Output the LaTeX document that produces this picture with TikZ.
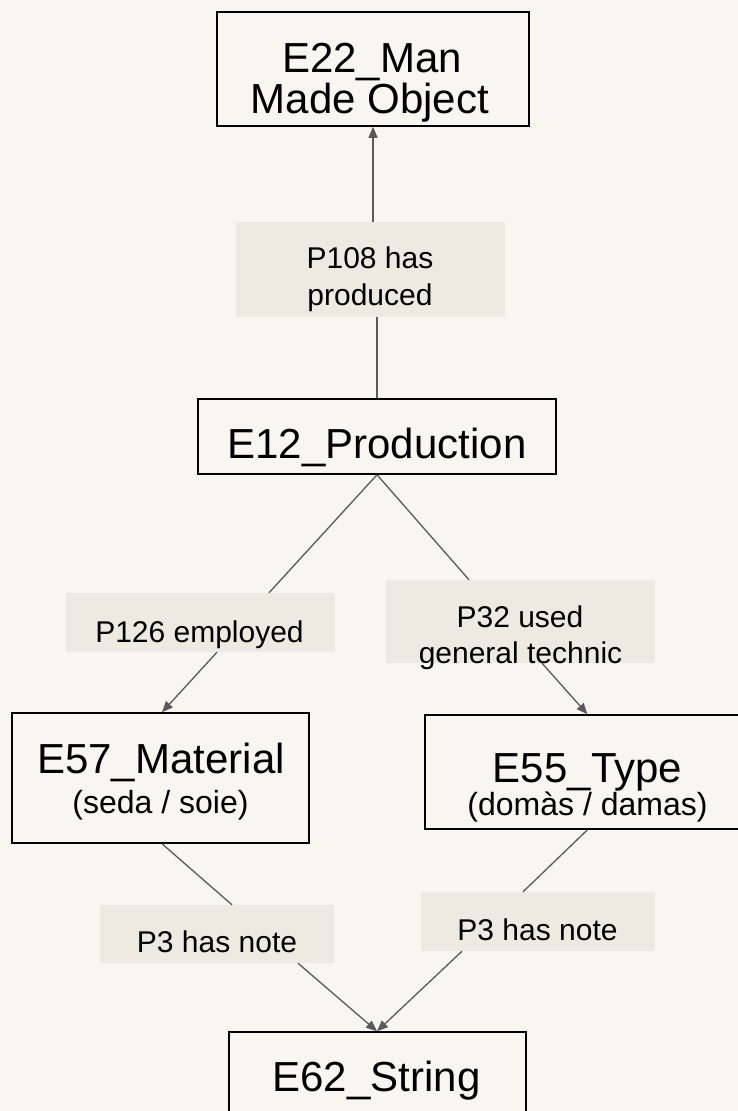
\documentclass[tikz,border=0pt]{standalone}
\usepackage{fontspec}
\setmainfont{Liberation Sans}
\usetikzlibrary{arrows.meta,calc}
\definecolor{bgc}{HTML}{F7F6F0}
\definecolor{labc}{HTML}{ECEAE1}
\definecolor{lnc}{HTML}{5A5A5A}
\begin{document}
\begin{tikzpicture}[x=1pt,y=-1pt,
  ebox/.style={draw=black,line width=1.5pt,inner sep=0pt,rectangle},
  lbox/.style={fill=labc,draw=none,inner sep=0pt,rectangle},
  etxt/.style={anchor=base,inner sep=0pt,font=\fontsize{42}{48}\selectfont},
  stxt/.style={anchor=base,inner sep=0pt,font=\fontsize{32}{38}\selectfont},
  ltxt/.style={anchor=base,inner sep=0pt,font=\fontsize{30}{36}\selectfont},
  conn/.style={draw=lnc,line width=1.3pt},
  arr/.style={conn,-{Triangle[length=11pt,width=9pt]}}]
\useasboundingbox (0,0) rectangle (738,1111);
\clip (0,0) rectangle (738,1111);
\fill[bgc] (0,0) rectangle (738,1111);

% label boxes
\node[lbox,minimum width=269pt,minimum height=95pt] (p108) at (370.5,269.5) {};
\node[lbox,minimum width=269pt,minimum height=59pt] (p126) at (200.5,622.5) {};
\node[lbox,minimum width=269pt,minimum height=83pt] (p32) at (520.5,621.5) {};
\node[lbox,minimum width=234pt,minimum height=58pt] (p3a) at (217,934) {};
\node[lbox,minimum width=234pt,minimum height=59pt] (p3b) at (538,921.5) {};

% entity boxes
\node[ebox,minimum width=312pt,minimum height=114pt] (e22) at (373,69) {};
\node[ebox,minimum width=358pt,minimum height=75pt] (e12) at (377,436.5) {};
\node[ebox,minimum width=297pt,minimum height=130pt] (e57) at (160.5,778) {};
\node[ebox,minimum width=325pt,minimum height=114pt] (e55) at (587.5,772) {};
\node[ebox,minimum width=297pt,minimum height=108pt] (e62) at (377.5,1086) {};

% connectors
\draw[conn] (e12.north) -- (e12.north |- p108.south);
\draw[arr] (e22.south |- p108.north) -- (e22.south);

\draw[conn] (e12.south) -- ([xshift=68.5pt]p126.north);
\draw[arr] ([xshift=16.5pt]p126.south) -- ([xshift=1.5pt]e57.north);

\draw[conn] (e12.south) -- ([xshift=-51.5pt]p32.north);
\draw[arr] ([xshift=21.5pt]p32.south) -- (e55.north);

\draw[conn] ([xshift=1.5pt]e57.south) -- ([xshift=15pt]p3a.north);
\draw[arr] ([xshift=81pt]p3a.south) -- ([xshift=-0.5pt]e62.north);

\draw[conn] (e55.south) -- ([xshift=-15pt]p3b.north);
\draw[arr] ([xshift=-76pt]p3b.south) -- ([xshift=-0.5pt]e62.north);

% texts
\node[etxt] (e22a) at (372,72) {E22\_Man};
\node[etxt] (e22b) at (370,113) {Made Object};
\node[etxt] (e12t) at (377,458) {E12\_Production};
\node[etxt] (e57a) at (161,773) {E57\_Material};
\node[stxt] (e57b) at (160.5,813) {(seda / soie)};
\node[etxt] (e55a) at (587.5,782) {E55\_Type};
\node[stxt] (e55b) at (587.5,815) {(domàs / damas)};
\node[etxt] (e62t) at (376.5,1091) {E62\_String};

\node[ltxt] (p108a) at (370,268) {P108 has};
\node[ltxt] (p108b) at (370,305) {produced};
\node[ltxt] (p126t) at (199.5,642) {P126 employed};
\node[ltxt] (p32a) at (520,627) {P32 used};
\node[ltxt] (p32b) at (520.5,663) {general technic};
\node[ltxt] (p3at) at (217,952) {P3 has note};
\node[ltxt] (p3bt) at (537.5,940) {P3 has note};
\end{tikzpicture}
\end{document}
